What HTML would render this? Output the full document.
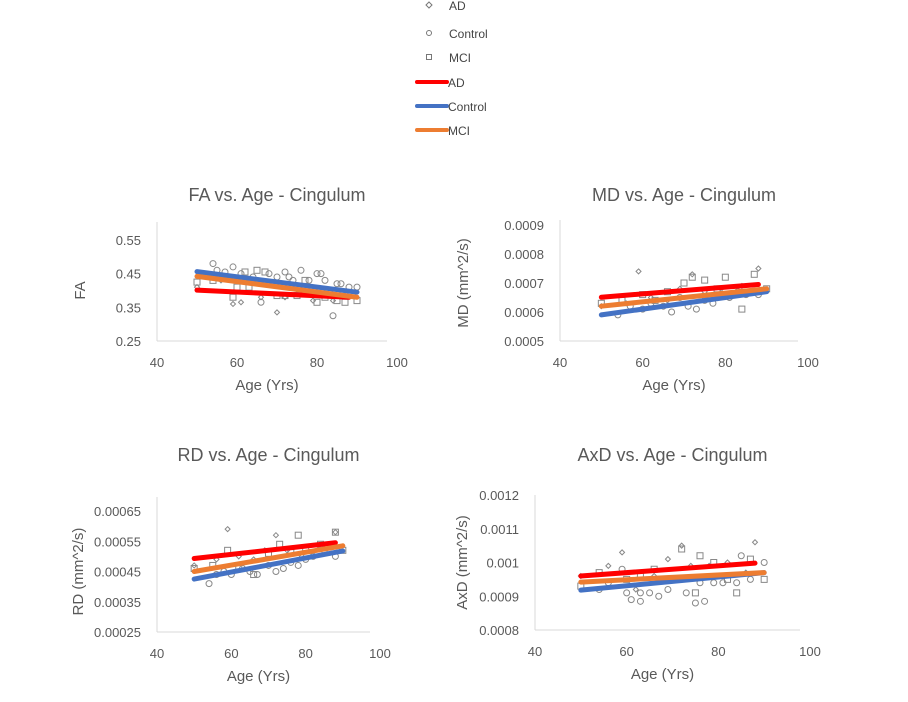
<!DOCTYPE html>
<html><head><meta charset="utf-8"><style>
body{margin:0;background:#fff;width:908px;height:702px;overflow:hidden;font-family:"Liberation Sans",sans-serif}
svg{position:absolute;left:0;top:0}
</style></head><body>
<svg id="s" width="908" height="702">
<g font-size="12" fill="#444">
<path d="M429 2 l3 3 l-3 3 l-3 -3z" fill="none" stroke="#777"/>
<text x="449" y="10">AD</text>
<circle cx="429" cy="33" r="2.5" fill="none" stroke="#777"/>
<text x="449" y="38">Control</text>
<rect x="426.5" y="54.5" width="5" height="5" fill="none" stroke="#777"/>
<text x="449" y="62">MCI</text>
<line x1="417" y1="82" x2="447" y2="82" stroke="#f00" stroke-width="4" stroke-linecap="round"/>
<text x="448" y="87">AD</text>
<line x1="417" y1="106" x2="447" y2="106" stroke="#4472c4" stroke-width="4" stroke-linecap="round"/>
<text x="448" y="111">Control</text>
<line x1="417" y1="130" x2="447" y2="130" stroke="#ed7d31" stroke-width="4" stroke-linecap="round"/>
<text x="448" y="135">MCI</text>
</g>
</svg>
<script>
// x tick values shared
const xTicks=[40,60,80,100];
// FA chart data
const faTicks=["0.55","0.45","0.35","0.25"];
const faAD=[[50,0.41],[56,0.43],[59,0.36],[61,0.365],[66,0.38],[70,0.335],[72,0.38],[75,0.39],[79,0.37],[84,0.37],[87,0.385]];
const faCtl=[[54,0.48],[55,0.46],[57,0.455],[59,0.47],[61,0.45],[64,0.44],[66,0.365],[68,0.45],[70,0.44],[72,0.455],[73,0.44],[74,0.43],[76,0.46],[78,0.43],[80,0.45],[81,0.45],[82,0.43],[84,0.325],[85,0.42],[86,0.42],[88,0.41],[90,0.41]];
const faMCI=[[50,0.425],[54,0.43],[59,0.38],[60,0.41],[62,0.455],[63,0.41],[65,0.46],[67,0.455],[70,0.385],[72,0.385],[75,0.385],[77,0.43],[80,0.365],[82,0.38],[85,0.37],[87,0.365],[90,0.37]];
const faTrend={AD:[0.401,0.38],Control:[0.456,0.395],MCI:[0.442,0.38]};
// MD chart data
const mdTicks=["0.0009","0.0008","0.0007","0.0006","0.0005"];
const mdAD=[[50,0.00062],[56,0.00063],[59,0.00074],[62,0.00065],[66,0.00064],[69,0.00068],[72,0.00073],[75,0.00067],[79,0.00068],[84,0.00069],[88,0.00075]];
const mdCtl=[[54,0.00059],[57,0.00062],[60,0.00061],[62,0.00063],[65,0.00062],[67,0.0006],[69,0.00065],[71,0.00062],[73,0.00061],[75,0.00064],[77,0.00063],[79,0.00066],[81,0.00065],[83,0.00067],[85,0.00066],[88,0.00066]];
const mdMCI=[[50,0.00063],[55,0.00064],[60,0.00066],[63,0.00064],[66,0.00067],[70,0.0007],[72,0.00072],[75,0.00071],[78,0.00068],[80,0.00072],[84,0.00061],[87,0.00073],[90,0.00068]];
const mdTrend={AD:[0.000651,0.000695],Control:[0.00059,0.00067],MCI:[0.00062,0.00068]};
// RD chart data
const rdTicks=["0.00065","0.00055","0.00045","0.00035","0.00025"];
const rdAD=[[50,0.00047],[56,0.00049],[59,0.00059],[62,0.0005],[66,0.00049],[69,0.00052],[72,0.00057],[75,0.00052],[79,0.0005],[84,0.00053],[88,0.00058]];
const rdCtl=[[54,0.00041],[56,0.00044],[58,0.00045],[60,0.00044],[63,0.00046],[65,0.00045],[67,0.00044],[70,0.00047],[72,0.00045],[74,0.00046],[76,0.00048],[78,0.00047],[80,0.00049],[82,0.0005],[85,0.00052],[88,0.0005]];
const rdMCI=[[50,0.00046],[55,0.00047],[59,0.00052],[62,0.00046],[66,0.00044],[70,0.00051],[73,0.00054],[76,0.00052],[78,0.00057],[80,0.00052],[84,0.00054],[88,0.00058],[90,0.00052]];
const rdTrend={AD:[0.000493,0.000545],Control:[0.000425,0.000518],MCI:[0.00045,0.000535]};
// AxD chart data
const axTicks=["0.0012","0.0011","0.001","0.0009","0.0008"];
const axAD=[[50,0.00096],[56,0.00099],[59,0.00103],[62,0.00092],[66,0.00096],[69,0.00101],[72,0.00105],[74,0.00099],[78,0.00099],[82,0.001],[86,0.00097],[88,0.00106]];
const axCtl=[[54,0.00092],[56,0.00094],[59,0.00098],[60,0.00091],[61,0.00089],[63,0.00091],[63,0.000885],[65,0.00091],[67,0.0009],[69,0.00092],[71,0.00095],[73,0.00091],[75,0.00088],[76,0.00094],[77,0.000885],[79,0.00094],[81,0.00094],[84,0.00094],[85,0.00102],[87,0.00095],[90,0.001]];
const axMCI=[[50,0.00093],[54,0.00097],[60,0.00095],[63,0.00096],[66,0.00098],[72,0.00104],[75,0.00091],[76,0.00102],[79,0.001],[82,0.00095],[84,0.00091],[87,0.00101],[90,0.00095]];
const axTrend={AD:[0.00096,0.000998],Control:[0.000918,0.00097],MCI:[0.000942,0.00097]};

const NS="http://www.w3.org/2000/svg";
const svg=document.getElementById('s');
function mk(tag,attrs,parent,txt){const e=document.createElementNS(NS,tag);for(const k in attrs)e.setAttribute(k,attrs[k]);if(txt!==undefined)e.textContent=txt;parent.appendChild(e);return e;}
const colors={AD:'#f00',Control:'#4472c4',MCI:'#ed7d31'};
function chart(cfg){
  const g=mk('g',{},svg);
  
  
  const sx=v=>cfg.x0+(v-40)/60*(cfg.x1-cfg.x0);
  const sy=v=>cfg.yb+(v-cfg.ymin)/(cfg.ymax-cfg.ymin)*(cfg.yt-cfg.yb);
  const t=mk('text',{x:(cfg.x0+cfg.x1)/2,y:cfg.ty,'text-anchor':'middle','font-size':18,fill:'#595959'},g,cfg.title);
  
  
  const ax=mk('line',{x1:cfg.x0,y1:cfg.axTop,x2:cfg.x0,y2:cfg.yb,stroke:'#d9d9d9'},g);
  
  
  const bx=mk('line',{x1:cfg.x0,y1:cfg.yb,x2:cfg.x1-10,y2:cfg.yb,stroke:'#d9d9d9'},g);
  
  
  cfg.ticks.forEach(lab=>{
    const e=mk('text',{x:cfg.x0-16,y:sy(parseFloat(lab))+5,'text-anchor':'end','font-size':13,fill:'#595959'},g,lab);
    
    
  });
  xTicks.forEach(v=>{
    const e=mk('text',{x:sx(v),y:cfg.yb+26,'text-anchor':'middle','font-size':13,fill:'#595959'},g,String(v));
    
    
  });
  const xt=mk('text',{x:(cfg.x0+cfg.x1)/2-10,y:cfg.yb+49,'text-anchor':'middle','font-size':15,fill:'#595959'},g,'Age (Yrs)');
  
  
  const ymid=(cfg.yt+cfg.yb)/2;
  const yt=mk('text',{x:cfg.ytx,y:ymid,'text-anchor':'middle','font-size':15,fill:'#595959',transform:`rotate(-90 ${cfg.ytx} ${ymid})`},g,cfg.ytitle);
  
  
  cfg.ad.forEach(p=>{const x=sx(p[0]),y=sy(p[1]);
    const e=mk('path',{d:`M${x} ${y-2.5}l2.5 2.5l-2.5 2.5l-2.5 -2.5z`,fill:'none',stroke:'#888'},g);
    
    });
  cfg.ctl.forEach(p=>{
    const e=mk('circle',{cx:sx(p[0]),cy:sy(p[1]),r:3,fill:'none',stroke:'#888'},g);
    
    });
  cfg.mci.forEach(p=>{
    const e=mk('rect',{x:sx(p[0])-3,y:sy(p[1])-3,width:6,height:6,fill:'none',stroke:'#888'},g);
    
    });
  [['AD',88],['Control',90],['MCI',90]].forEach(([k,xe])=>{
    const tr=cfg.trend[k];
    const e=mk('line',{x1:sx(50),y1:sy(tr[0]),x2:sx(xe),y2:sy(tr[1]),stroke:colors[k],'stroke-width':5,'stroke-linecap':'round'},g);
    
    
  });
}
chart({name:'fa-chart',title:'FA vs. Age - Cingulum',ytitle:'FA',x0:157,x1:397,ymin:0.25,ymax:0.55,yb:341,yt:240,axTop:222,ty:201,ytx:85,ticks:faTicks,ad:faAD,ctl:faCtl,mci:faMCI,trend:faTrend});
chart({name:'md-chart',title:'MD vs. Age - Cingulum',ytitle:'MD (mm^2/s)',x0:560,x1:808,ymin:0.0005,ymax:0.0009,yb:341,yt:225,axTop:220,ty:201,ytx:468,ticks:mdTicks,ad:mdAD,ctl:mdCtl,mci:mdMCI,trend:mdTrend});
chart({name:'rd-chart',title:'RD vs. Age - Cingulum',ytitle:'RD (mm^2/s)',x0:157,x1:380,ymin:0.00025,ymax:0.00065,yb:632,yt:511,axTop:497,ty:461,ytx:83,ticks:rdTicks,ad:rdAD,ctl:rdCtl,mci:rdMCI,trend:rdTrend});
chart({name:'axd-chart',title:'AxD vs. Age - Cingulum',ytitle:'AxD (mm^2/s)',x0:535,x1:810,ymin:0.0008,ymax:0.0012,yb:630,yt:495,axTop:495,ty:461,ytx:467,ticks:axTicks,ad:axAD,ctl:axCtl,mci:axMCI,trend:axTrend});
</script>
</body></html>
